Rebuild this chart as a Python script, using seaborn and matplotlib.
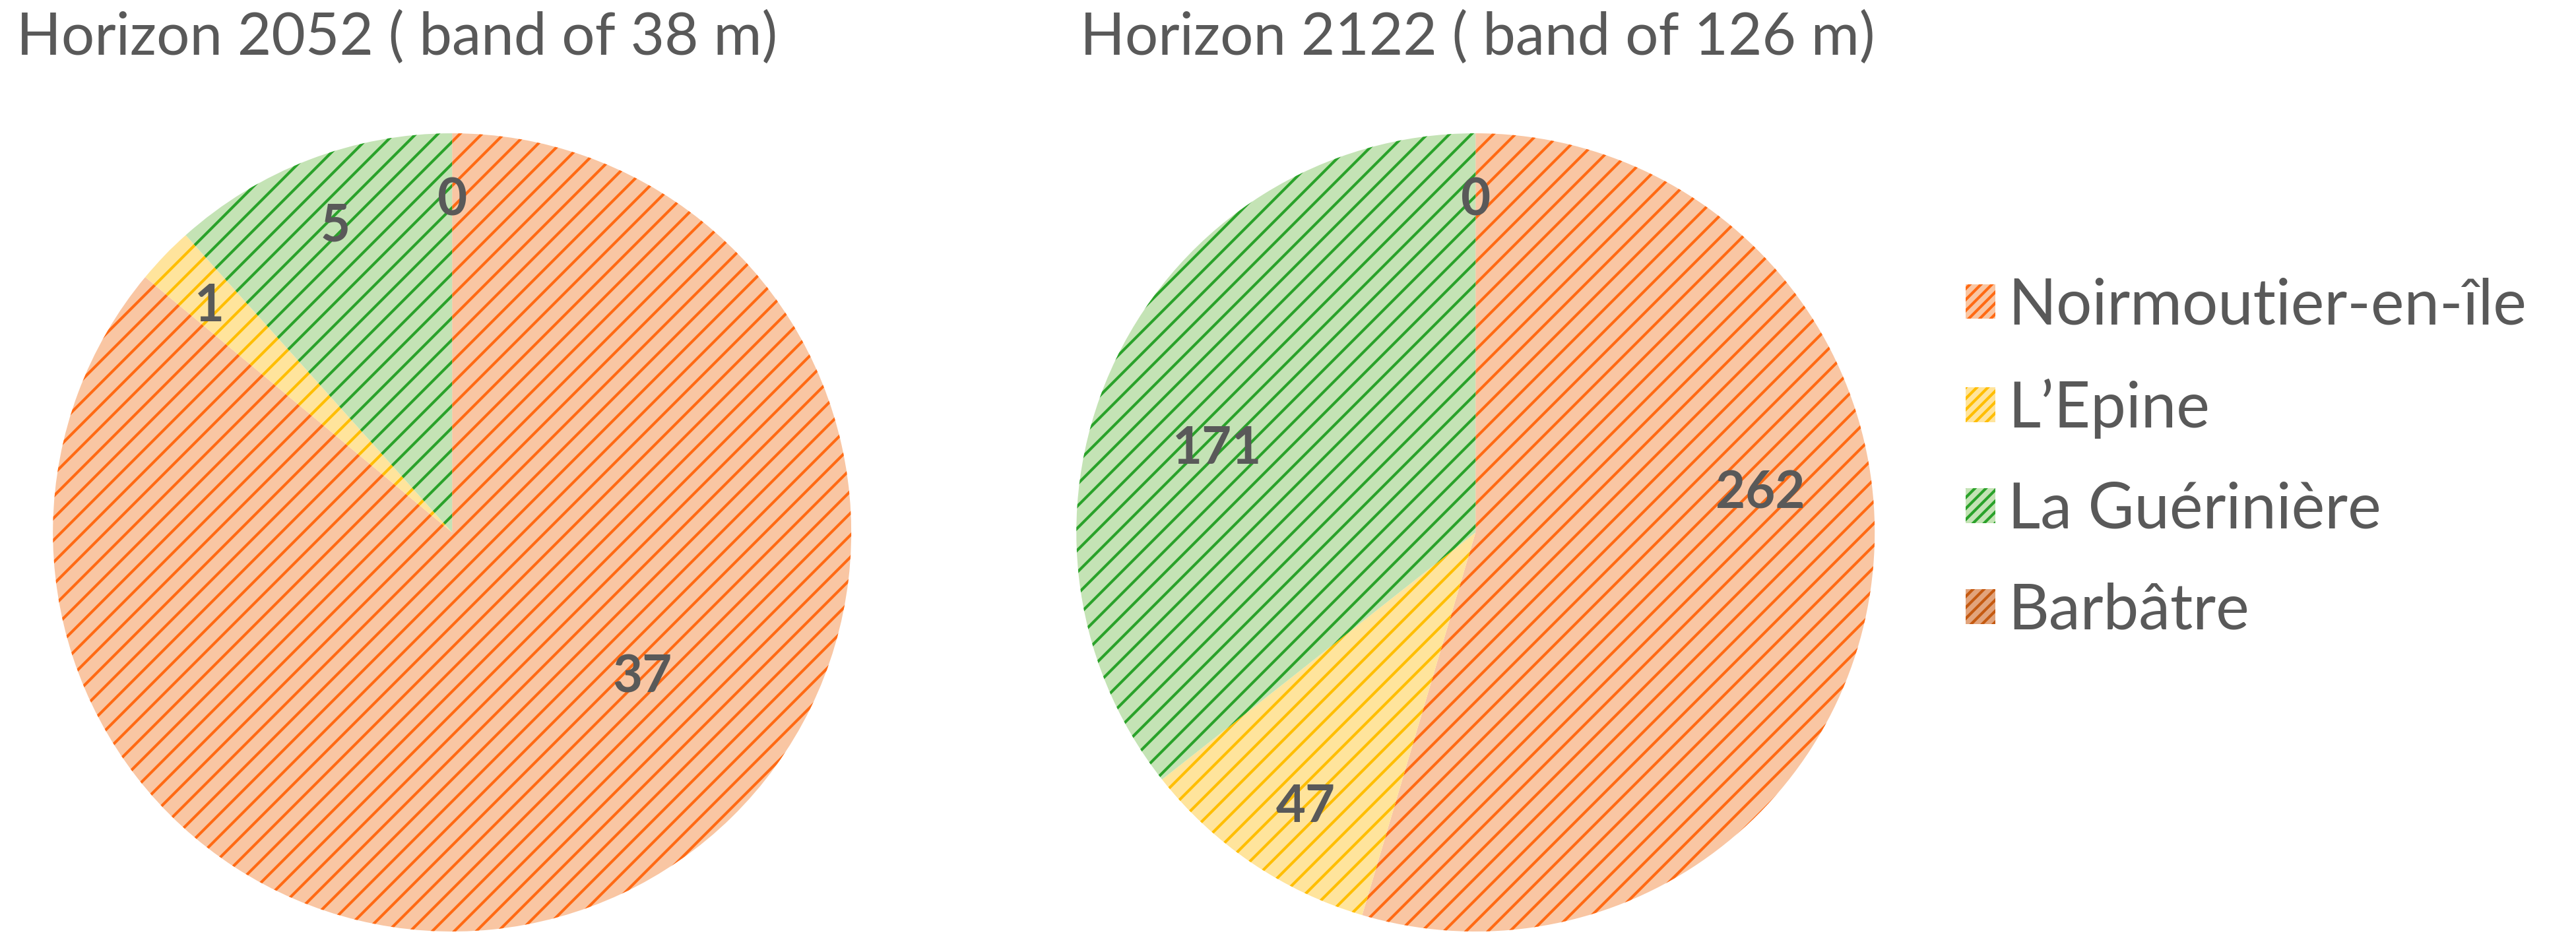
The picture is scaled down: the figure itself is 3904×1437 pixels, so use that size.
import numpy as np
import seaborn as sns
import matplotlib.pyplot as plt
from matplotlib.patches import Patch

communes = ["Noirmoutier-en-île", "L\u2019Epine", "La Guérinière", "Barbâtre"]
values_2052 = [37, 1, 5, 0]
values_2122 = [262, 47, 171, 0]
titles = ["Horizon 2052 ( band of 38 m)", "Horizon 2122 ( band of 126 m)"]

# colours: light fill + strong hatch, Excel pattern look
face_cols = ["#F9C6A3", "#FFE49C", "#C4E3B5", "#E2A47C"]
hatch_cols = ["#FF6A14", "#FFBE00", "#2AA22A", "#C55A11"]

# label placement (angle shift from wedge middle, radius fraction)
shift_2052 = [27.5, 1, 0, 0]
rad_2052 = [0.6, 0.83, 0.82, 0.83]
shift_2122 = [16, 2.4, 8, 0]
rad_2122 = [0.72, 0.81, 0.68, 0.83]

sns.set_theme(style="white")
plt.rcParams["font.family"] = ["Lato", "DejaVu Sans"]
plt.rcParams["hatch.linewidth"] = 3.0
grey = "#595959"

fig = plt.figure(figsize=(39.04, 14.37), dpi=100)
axes = [fig.add_axes([0.0205, 0.0174, 0.31, 0.842]),
        fig.add_axes([0.4178, 0.0174, 0.31, 0.842])]

for ax, vals, title, shifts, rads in zip(axes, [values_2052, values_2122], titles,
                                         [shift_2052, shift_2122], [rad_2052, rad_2122]):
    wedges, _ = ax.pie(vals, startangle=90, counterclock=False, radius=1,
                       colors=face_cols, wedgeprops=dict(linewidth=0))
    for w, hc in zip(wedges, hatch_cols):
        w.set_hatch("/")
        w.set_edgecolor(hc)
        w.set_linewidth(0)
    for w, v, s, r in zip(wedges, vals, shifts, rads):
        ang = np.deg2rad((w.theta1 + w.theta2) / 2 + s)
        ax.text(r * np.cos(ang), r * np.sin(ang), str(v), ha="center", va="center",
                fontsize=56, fontweight="bold", color=grey)
    ax.set_xlim(-1, 1)
    ax.set_ylim(-1, 1)
    ax.set_aspect("equal")
    ax.axis("off")

fig.text(0.0064, 0.96, titles[0], fontsize=64, color=grey, va="center", ha="left")
fig.text(0.4193, 0.96, titles[1], fontsize=64, color=grey, va="center", ha="left")

handles = [Patch(facecolor=fc, edgecolor=hc, hatch="//", linewidth=0)
           for fc, hc in zip(face_cols, hatch_cols)]
fig.legend(handles, communes, loc="center left", bbox_to_anchor=(0.763, 0.516),
           frameon=False, fontsize=69, labelcolor=grey, handlelength=0.47,
           handleheight=0.47, handletextpad=0.2, labelspacing=0.68, borderpad=0,
           borderaxespad=0)

fig.savefig("out.png", dpi=100)
